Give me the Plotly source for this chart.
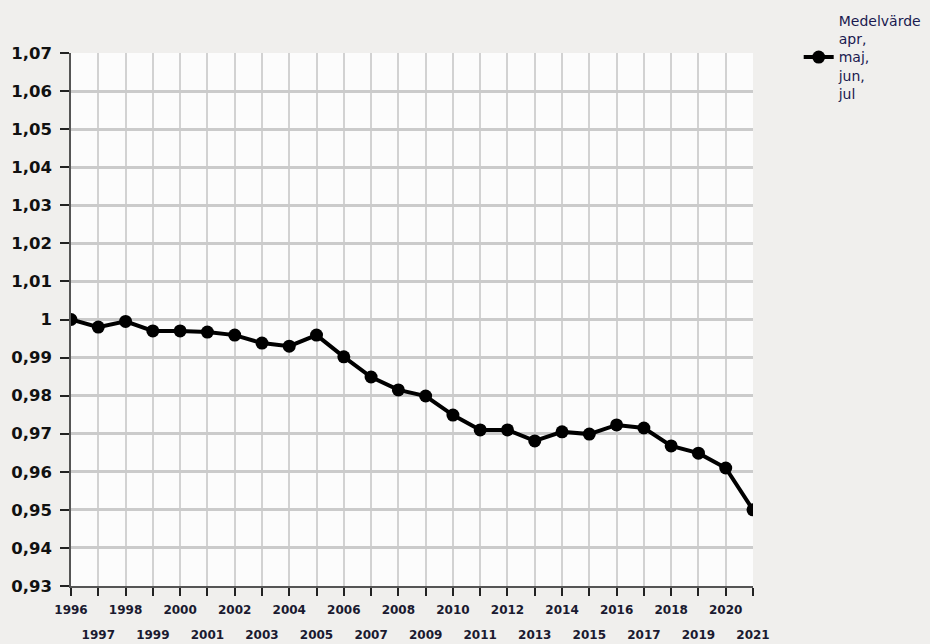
import plotly.graph_objects as go

years = list(range(1996, 2022))
values = [1.0000, 0.9980, 0.9995, 0.9970, 0.9970, 0.9967, 0.9959, 0.9938, 0.9930, 0.9959,
          0.9902, 0.9849, 0.9815, 0.9799, 0.9749, 0.9710, 0.9710, 0.9681, 0.9705, 0.9699,
          0.9723, 0.9715, 0.9668, 0.9649, 0.9610, 0.9500]
y_ticks = [0.93, 0.94, 0.95, 0.96, 0.97, 0.98, 0.99, 1.00, 1.01, 1.02, 1.03, 1.04, 1.05, 1.06, 1.07]
y_labels = ["0,93", "0,94", "0,95", "0,96", "0,97", "0,98", "0,99", "1", "1,01", "1,02",
            "1,03", "1,04", "1,05", "1,06", "1,07"]
even_labels = [str(y) if y % 2 == 0 else "" for y in years]
odd_years = [y for y in years if y % 2 == 1]
odd_labels = [str(y) for y in odd_years]
series_name = "Medelvärde<br>apr,<br>maj,<br>jun,<br>jul"

tickfont_x = dict(size=12, family="DejaVu Sans", color="#1a1a30", weight="bold")

fig = go.Figure()
fig.add_trace(go.Scatter(
    x=years, y=values, mode="lines+markers", name=series_name,
    line=dict(color="#000000", width=4),
    marker=dict(color="#000000", size=13),
    showlegend=True,
))
# invisible helper trace so the second label row (odd years) is drawn
fig.add_trace(go.Scatter(
    x=odd_years, y=[values[0]] * len(odd_years), xaxis="x2", mode="markers",
    marker=dict(opacity=0), showlegend=False, hoverinfo="skip",
))

fig.update_layout(
    width=930, height=644,
    margin=dict(l=71, r=177, t=53, b=58, autoexpand=False),
    paper_bgcolor="#f0efed",
    plot_bgcolor="#fcfcfc",
    font=dict(family="DejaVu Sans", color="#1a1a2e"),
    legend=dict(
        x=1.067, y=1.09, xanchor="left", yanchor="top",
        bgcolor="rgba(0,0,0,0)", font=dict(size=14, color="#1a1a50", family="DejaVu Sans"),
        valign="middle", itemwidth=30,
    ),
    xaxis=dict(
        range=[1996, 2021], tickvals=years, ticktext=even_labels,
        showgrid=True, gridcolor="#d2d2d2", gridwidth=1.5,
        showline=True, linecolor="#555555", linewidth=1.5,
        ticks="outside", ticklen=8, tickcolor="#222222", tickwidth=1.5,
        tickfont=tickfont_x, ticklabelstandoff=4,
        zeroline=False, tickangle=0,
    ),
    xaxis2=dict(
        overlaying="x", side="bottom", anchor="y", matches="x",
        range=[1996, 2021], tickvals=odd_years, ticktext=odd_labels,
        showgrid=False, showline=False, ticks="", zeroline=False,
        tickfont=tickfont_x, ticklabelstandoff=40, tickangle=0,
    ),
    yaxis=dict(
        range=[0.93, 1.07], tickvals=y_ticks, ticktext=y_labels,
        showgrid=True, gridcolor="#cbcbcb", gridwidth=3,
        showline=True, linecolor="#555555", linewidth=1.5,
        ticks="outside", ticklen=9, tickcolor="#222222", tickwidth=1.5,
        tickfont=dict(size=16.5, family="DejaVu Sans", color="#111111", weight="bold"),
        ticklabelstandoff=5, zeroline=False,
    ),
)

fig.write_html(
    "out.html",
    config={"displayModeBar": False},
    post_script="document.body.style.margin='0px';document.body.style.overflow='hidden';",
)
